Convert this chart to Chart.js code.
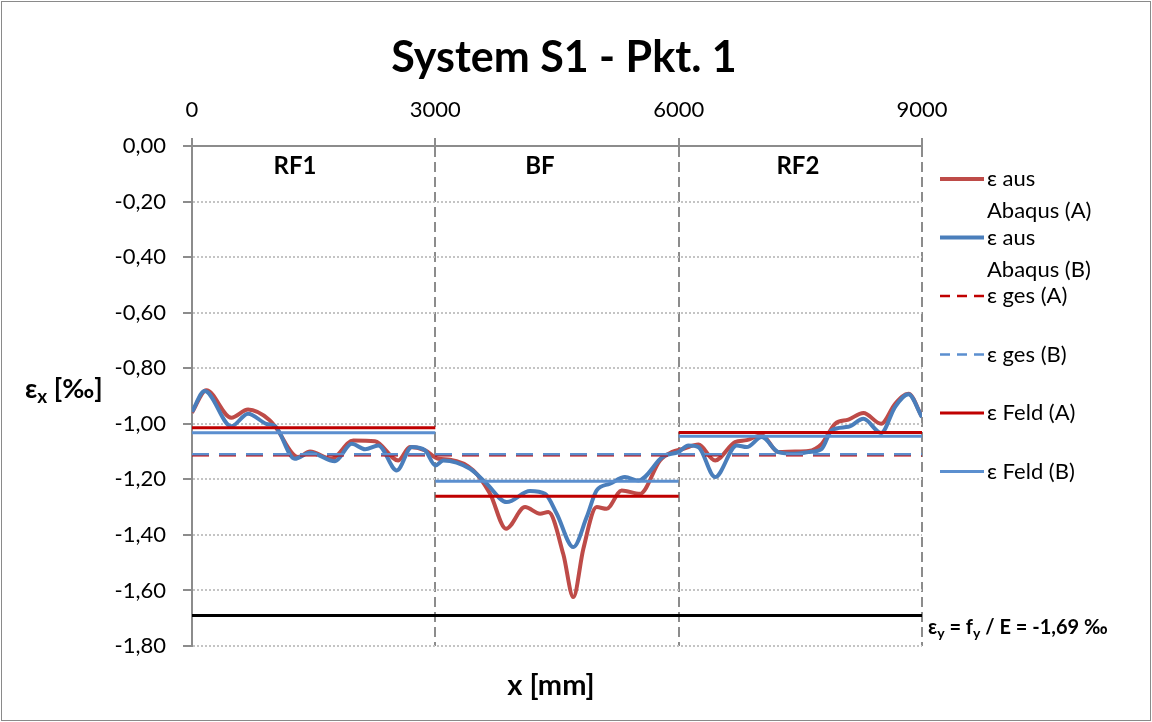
<!DOCTYPE html>
<html lang="de">
<head>
    <meta charset="UTF-8">
    <title>System S1 - Pkt. 1</title>
    <script src="https://cdn.jsdelivr.net/npm/chart.js@4.4.1/dist/chart.umd.min.js"></script>
    <style>
        body { margin: 0; background: #fff; }
        canvas { display: block; }
    </style>
</head>
<body>
    <canvas id="chart" width="1152" height="722"></canvas>
    <script>
        // strain from Abaqus, system A (red) and B (blue)
        const xA = [0, 176, 485, 691, 958, 1030, 1307, 1455, 1720, 1989, 2255, 2543, 2687, 2874, 3037,
            3181, 3469, 3675, 3872, 4106, 4291, 4394, 4578, 4701, 4825, 4989, 5112, 5297, 5523, 5770,
            5914, 6058, 6244, 6449, 6695, 6839, 7024, 7229, 7435, 7600, 7764, 7929, 8093, 8278, 8496,
            8669, 8833, 9000];
        const epsA = [-0.96, -0.879, -0.978, -0.949, -0.987, -1.012, -1.12, -1.10, -1.126, -1.06, -1.063, -1.132, -1.084, -1.096, -1.126,
            -1.129, -1.168, -1.252, -1.378, -1.30, -1.324, -1.318, -1.47, -1.624, -1.45, -1.30, -1.306, -1.24, -1.252, -1.132,
            -1.102, -1.09, -1.075, -1.132, -1.066, -1.059, -1.041, -1.102, -1.10, -1.098, -1.072, -1.0, -0.985, -0.961, -1.0,
            -0.928, -0.892, -0.975];

        const xB = [0, 156, 485, 691, 916, 1027, 1266, 1455, 1763, 1969, 2134, 2298, 2525, 2710, 2874,
            3000, 3099, 3428, 3633, 3880, 4167, 4352, 4497, 4701, 4866, 4989, 5153, 5338, 5503, 5811,
            5996, 6120, 6244, 6449, 6716, 6839, 7024, 7229, 7435, 7600, 7764, 7887, 8093, 8278, 8496,
            8669, 8833, 9000];
        const epsB = [-0.957, -0.882, -1.009, -0.964, -1.0, -1.009, -1.126, -1.104, -1.135, -1.072, -1.092, -1.078, -1.168, -1.084, -1.096,
            -1.15, -1.132, -1.162, -1.216, -1.282, -1.242, -1.252, -1.324, -1.444, -1.336, -1.24, -1.216, -1.192, -1.204, -1.117,
            -1.102, -1.078, -1.084, -1.192, -1.078, -1.084, -1.048, -1.102, -1.108, -1.102, -1.09, -1.023, -1.011, -0.982, -1.033,
            -0.939, -0.894, -0.976];

        // field sections RF1 / BF / RF2
        const sectionNames = ['RF1', 'BF', 'RF2'];
        const sectionBounds = [0, 3000, 6000, 9000];
        const feldA = [-1.014, -1.261, -1.031];
        const feldB = [-1.032, -1.207, -1.045];
        const gesA = -1.113;
        const gesB = -1.110;
        const epsYield = -1.69;

        const xTicks = [0, 3000, 6000, 9000];

        const FONT = 'Lato, "Open Sans", sans-serif';

        const toPoints = (xs, ys) => xs.map((x, i) => ({ x: x, y: ys[i] }));
        const fullLine = v => [{ x: sectionBounds[0], y: v }, { x: sectionBounds[sectionBounds.length - 1], y: v }];
        const feldPoints = vals => {
            const pts = [];
            vals.forEach((v, i) => {
                pts.push({ x: sectionBounds[i], y: v });
                pts.push({ x: sectionBounds[i + 1], y: v });
                if (i < vals.length - 1) pts.push({ x: sectionBounds[i + 1], y: null });
            });
            return pts;
        };

        const RED_CURVE = '#BE4B48';
        const BLUE_CURVE = '#4A7EBB';
        const RED_LINE = '#C00000';
        const BLUE_LINE = '#5B8FCF';
        const DASH = [17, 10];

        const legendItems = [
            { lines: ['ε aus', 'Abaqus (A)'], color: RED_CURVE, width: 4, dash: [] },
            { lines: ['ε aus', 'Abaqus (B)'], color: BLUE_CURVE, width: 4, dash: [] },
            { lines: ['ε ges (A)'], color: RED_LINE, width: 2.5, dash: [10, 7] },
            { lines: ['ε ges (B)'], color: BLUE_LINE, width: 2.5, dash: [10, 7] },
            { lines: ['ε Feld (A)'], color: RED_LINE, width: 3, dash: [] },
            { lines: ['ε Feld (B)'], color: BLUE_LINE, width: 3, dash: [] }
        ];

        // text pieces with subscripts
        function richText(ctx, parts, x, y, size) {
            let cx = x;
            parts.forEach(p => {
                if (p.sub) {
                    ctx.font = 'bold ' + Math.round(size * 0.7) + 'px ' + FONT;
                    ctx.fillText(p.t, cx, y + size * 0.3);
                } else {
                    ctx.font = 'bold ' + size + 'px ' + FONT;
                    ctx.fillText(p.t, cx, y);
                }
                cx += ctx.measureText(p.t).width;
            });
        }

        const decorations = {
            id: 'decorations',
            beforeDraw(chart) {
                const ctx = chart.ctx;
                ctx.save();
                ctx.fillStyle = '#fff';
                ctx.fillRect(0, 0, chart.width, chart.height);
                ctx.strokeStyle = '#8a8a8a';
                ctx.lineWidth = 1;
                ctx.strokeRect(1.5, 1.5, chart.width - 3, chart.height - 3);
                ctx.restore();
            },
            afterDraw(chart) {
                const ctx = chart.ctx;
                const area = chart.chartArea;
                const xs = chart.scales.x, ys = chart.scales.y;
                ctx.save();
                ctx.fillStyle = '#000';
                ctx.textBaseline = 'middle';

                // title
                ctx.textAlign = 'center';
                ctx.font = 'bold 43px ' + FONT;
                ctx.fillText('System S1 - Pkt. 1', 564, 58);

                // x axis title
                ctx.font = 'bold 29px ' + FONT;
                ctx.fillText('x [mm]', 551, 686);

                // section names
                ctx.font = 'bold 24px ' + FONT;
                const labelX = [1270, 4290, 7470];
                sectionNames.forEach((n, i) => ctx.fillText(n, xs.getPixelForValue(labelX[i]), 166));

                // y axis title
                ctx.textAlign = 'left';
                richText(ctx, [{ t: 'ε' }, { t: 'x', sub: true }, { t: ' [‰]' }], 25, 389, 27);

                // yield label
                richText(ctx, [{ t: 'ε' }, { t: 'y', sub: true }, { t: ' = f' }, { t: 'y', sub: true },
                    { t: ' / E = -1,69 ‰' }], area.right + 6, ys.getPixelForValue(epsYield) + 12, 20);

                // legend
                let ly = 179;
                const lx0 = area.right + 18, lx1 = area.right + 62;
                legendItems.forEach(it => {
                    ctx.beginPath();
                    ctx.strokeStyle = it.color;
                    ctx.lineWidth = it.width;
                    ctx.setLineDash(it.dash);
                    ctx.moveTo(lx0, ly);
                    ctx.lineTo(lx1, ly);
                    ctx.stroke();
                    ctx.setLineDash([]);
                    ctx.font = '22px ' + FONT;
                    it.lines.forEach((t, k) => ctx.fillText(t, lx1 + 3, ly + k * 32));
                    ly += 58.5;
                });
                ctx.restore();
            }
        };

        const ctx = document.getElementById('chart').getContext('2d');
        new Chart(ctx, {
            type: 'scatter',
            data: {
                datasets: [
                    { label: 'ε aus Abaqus (A)', data: toPoints(xA, epsA), borderColor: RED_CURVE, borderWidth: 4,
                      showLine: true, pointRadius: 0, cubicInterpolationMode: 'monotone', order: 7 },
                    { label: 'ε aus Abaqus (B)', data: toPoints(xB, epsB), borderColor: BLUE_CURVE, borderWidth: 4,
                      showLine: true, pointRadius: 0, cubicInterpolationMode: 'monotone', order: 6 },
                    { label: 'ε ges (A)', data: fullLine(gesA), borderColor: RED_LINE, borderWidth: 2.5, borderDash: DASH,
                      showLine: true, pointRadius: 0, order: 5 },
                    { label: 'ε ges (B)', data: fullLine(gesB), borderColor: BLUE_LINE, borderWidth: 2.5, borderDash: DASH,
                      showLine: true, pointRadius: 0, order: 4 },
                    { label: 'ε Feld (A)', data: feldPoints(feldA), borderColor: RED_LINE, borderWidth: 3,
                      showLine: true, pointRadius: 0, spanGaps: false, order: 3 },
                    { label: 'ε Feld (B)', data: feldPoints(feldB), borderColor: BLUE_LINE, borderWidth: 3,
                      showLine: true, pointRadius: 0, spanGaps: false, order: 2 },
                    { label: 'εy', data: fullLine(epsYield), borderColor: '#000', borderWidth: 3,
                      showLine: true, pointRadius: 0, order: 1 }
                ]
            },
            options: {
                responsive: false,
                animation: false,
                devicePixelRatio: 1,
                layout: { padding: { top: 96, left: 0, right: 230, bottom: 76 } },
                plugins: {
                    legend: { display: false },
                    title: { display: false },
                    tooltip: { enabled: false }
                },
                scales: {
                    x: {
                        type: 'linear',
                        position: 'top',
                        min: 0,
                        max: 9000,
                        afterFit: s => { s.height = 50; },
                        afterBuildTicks: s => { s.ticks = xTicks.map(v => ({ value: v })); },
                        ticks: { color: '#000', font: { size: 22, family: FONT }, padding: 15, callback: v => String(v) },
                        grid: { color: '#8c8c8c', lineWidth: 2, tickLength: 8, tickColor: '#8c8c8c' },
                        border: { display: true, color: '#8c8c8c', width: 2, dash: [10, 5] }
                    },
                    y: {
                        min: -1.8,
                        max: 0,
                        afterFit: s => { s.width = 192; },
                        ticks: { stepSize: 0.2, color: '#000', font: { size: 22, family: FONT }, padding: 17,
                                 callback: v => (Math.abs(v) < 1e-9 ? 0 : v).toFixed(2).replace('.', ',') },
                        grid: { color: '#c4c4c4', lineWidth: 2, tickLength: 9, tickColor: '#8c8c8c' },
                        border: { display: true, color: '#8c8c8c', width: 2, dash: [2, 2] }
                    }
                }
            },
            plugins: [decorations]
        });
    </script>
</body>
</html>
